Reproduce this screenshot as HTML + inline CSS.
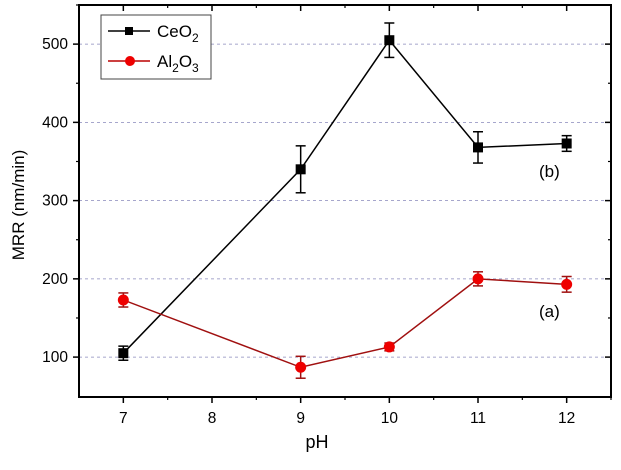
<!DOCTYPE html>
<html><head><meta charset="utf-8"><style>
html,body{margin:0;padding:0;background:#fff;}
svg text{font-family:"Liberation Sans",Arial,sans-serif;}
</style></head><body>
<svg id="chart" width="621" height="465" xmlns="http://www.w3.org/2000/svg">
<g id="grid"></g><g id="axes"></g><g id="series"></g>
<rect x="101" y="15" width="110" height="64" fill="#fff" stroke="#444" stroke-width="1"/>
<g>
<line x1="108" y1="31" x2="150" y2="31" stroke="#000" stroke-width="1.5"/>
<rect x="125" y="27" width="8" height="8" fill="#000"/>
<text x="157" y="37" font-size="17">CeO<tspan font-size="12" dy="5">2</tspan></text></g>
<g>
<line x1="108" y1="61" x2="150" y2="61" stroke="#b00" stroke-width="1.5"/>
<circle cx="130" cy="61" r="5" fill="#e00"/>
<text x="157" y="67" font-size="17">Al<tspan font-size="12" dy="5">2</tspan><tspan dy="-5">O</tspan><tspan font-size="12" dy="5">3</tspan></text></g>
<text x="539" y="177" font-size="17">(b)</text>
<text x="539" y="317" font-size="17">(a)</text>
<text x="317" y="448" font-size="18" text-anchor="middle">pH</text>
<text transform="translate(24,205) rotate(-90)" font-size="17" text-anchor="middle">MRR (nm/min)</text>
</svg>
<script>
const phValues=[7,9,10,11,12];
const ceo2Values=[105,340,505,368,373];
const ceo2Errors=[9,30,22,20,10];
const al2o3Values=[173,87,113,200,193];
const al2o3Errors=[9,14,5,9,10];
const xTicks=[7,8,9,10,11,12];
const yTicks=[100,200,300,400,500];
const L=79,R=611,T=5,B=397;
const xMin=6.5,xMax=12.5,yMin=49,yMax=550;
const xs=v=>L+(v-xMin)/(xMax-xMin)*(R-L);
const ys=v=>B-(v-yMin)/(yMax-yMin)*(B-T);
const NS="http://www.w3.org/2000/svg";
function mk(tag,attrs,parent){const e=document.createElementNS(NS,tag);for(const k in attrs)e.setAttribute(k,attrs[k]);parent.appendChild(e);return e;}
const grid=document.getElementById('grid'),axes=document.getElementById('axes'),series=document.getElementById('series');
yTicks.forEach(v=>{const y=ys(v);
 const g=mk('line',{x1:L,x2:R,y1:y,y2:y,stroke:'#8888bb','stroke-width':0.8,'stroke-dasharray':'3,3'},grid);
 
 
 mk('line',{x1:L-6,x2:L,y1:y,y2:y,stroke:'#000','stroke-width':1.5},axes);
 mk('line',{x1:R-6,x2:R,y1:y,y2:y,stroke:'#000','stroke-width':1.5},axes);
 const t=mk('text',{x:L-11,y:y+5,'font-size':15.5,'text-anchor':'end'},axes);t.textContent=v;
 
 
 const ym=ys(v+50);mk('line',{x1:L-3,x2:L,y1:ym,y2:ym,stroke:'#000','stroke-width':1.2},axes);
 mk('line',{x1:R-3,x2:R,y1:ym,y2:ym,stroke:'#000','stroke-width':1.2},axes);
});
xTicks.forEach(v=>{const x=xs(v);
 mk('line',{x1:x,x2:x,y1:B,y2:B+6,stroke:'#000','stroke-width':1.5},axes);
 mk('line',{x1:x,x2:x,y1:T,y2:T+6,stroke:'#000','stroke-width':1.5},axes);
 const xm=xs(v+0.5);mk('line',{x1:xm,x2:xm,y1:B,y2:B+3,stroke:'#000','stroke-width':1.2},axes);
 mk('line',{x1:xm,x2:xm,y1:T,y2:T+3,stroke:'#000','stroke-width':1.2},axes);
 const t=mk('text',{x:x,y:B+26,'font-size':15.5,'text-anchor':'middle'},axes);t.textContent=v;
 
 
});
const frame=mk('rect',{x:L,y:T,width:R-L,height:B-T,fill:'none',stroke:'#000','stroke-width':2},axes);


function draw(vals,errs,color,lineColor,shape,name){
 const pts=phValues.map((p,i)=>xs(p)+','+ys(vals[i])).join(' ');
 const pl=mk('polyline',{points:pts,fill:'none',stroke:lineColor,'stroke-width':1.5},series);
 
 
 phValues.forEach((p,i)=>{const x=xs(p),y=ys(vals[i]),y1=ys(vals[i]+errs[i]),y2=ys(vals[i]-errs[i]);
  mk('line',{x1:x,x2:x,y1:y1,y2:y2,stroke:lineColor,'stroke-width':1.5},series);
  mk('line',{x1:x-5,x2:x+5,y1:y1,y2:y1,stroke:lineColor,'stroke-width':1.5},series);
  mk('line',{x1:x-5,x2:x+5,y1:y2,y2:y2,stroke:lineColor,'stroke-width':1.5},series);
  let m;
  if(shape==='sq')m=mk('rect',{x:x-5,y:y-5,width:10,height:10,fill:color},series);
  else m=mk('circle',{cx:x,cy:y,r:5.5,fill:color},series);
  
  
 });
}
draw(ceo2Values,ceo2Errors,'#000','#000','sq','ceo2');
draw(al2o3Values,al2o3Errors,'#e00','#a01010','ci','al2o3');
</script>
</body></html>
